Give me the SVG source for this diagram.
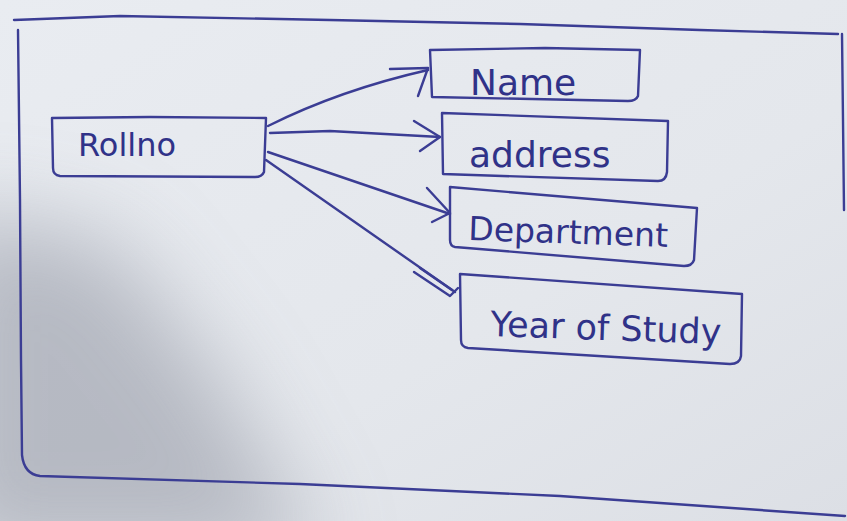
<svg xmlns="http://www.w3.org/2000/svg" width="847" height="521" viewBox="0 0 847 521">
  <defs>
    <filter id="soft" x="-50%" y="-50%" width="200%" height="200%">
      <feGaussianBlur stdDeviation="45"/>
    </filter>
    <linearGradient id="paper" x1="0" y1="0" x2="1" y2="1">
      <stop offset="0" stop-color="#e9ecf1"/>
      <stop offset="0.6" stop-color="#e4e7ec"/>
      <stop offset="1" stop-color="#dcdfe5"/>
    </linearGradient>
  </defs>
  <style>
    .ink { fill: none; stroke: #3b3d94; stroke-width: 2.4; stroke-linecap: round; stroke-linejoin: round; }
    .label { fill: #303288; font-family: "DejaVu Sans", "Liberation Sans", sans-serif; }
  </style>

  <!-- paper with a shadow falling over the lower left -->
  <rect x="0" y="0" width="847" height="521" fill="url(#paper)"/>
  <path d="M-60 210 L110 240 L220 380 L320 560 L-60 560 Z" fill="#a2a6b1" opacity="0.7" filter="url(#soft)"/>

  <!-- outer frame -->
  <g id="frame" class="ink">
    <path d="M14 20 L120 16 L330 20 L520 24 L700 30 L838 34"/>
    <path d="M18 30 L20 200 L21 360 L22 455 Q24 474 40 476 L300 484 L560 496 L845 516"/>
    <path d="M842 34 L843 120 L844 210"/>
  </g>

  <!-- connectors -->
  <g id="connectors" class="ink">
    <path d="M268 126 Q340 90 428 70"/>
    <path d="M390 69 L428 68 L418 96"/>
    <path d="M270 133 L330 131 L440 137"/>
    <path d="M414 121 L440 137 L420 151"/>
    <path d="M268 152 L450 214"/>
    <path d="M427 188 L450 213 L432 222"/>
    <path d="M266 160 L455 292"/>
    <path d="M414 272 L450 296 L458 288"/>
    <path d="M420 268 L452 290"/>
  </g>

  <!-- nodes -->
  <g id="rollno">
    <path class="ink" d="M52 118 L150 117 L266 118 L264 172 Q262 177 255 177 L60 176 Q53 175 53 168 Z"/>
    <text class="label" x="78" y="156" font-size="32">Rollno</text>
  </g>
  <g id="name">
    <path class="ink" d="M430 50 L545 48 L640 50 L638 96 Q636 101 628 101 L432 97 Z"/>
    <text class="label" x="470" y="95" font-size="36">Name</text>
  </g>
  <g id="address">
    <path class="ink" d="M442 113 L668 121 L667 172 Q666 181 658 181 L443 174 Z"/>
    <text class="label" x="469" y="167" font-size="36">address</text>
  </g>
  <g id="department">
    <path class="ink" d="M450 187 L697 208 L694 260 Q692 266 684 266 L455 247 Q450 246 450 240 Z"/>
    <text class="label" x="468" y="240" font-size="33" transform="rotate(2 468 240)">Department</text>
  </g>
  <g id="year-of-study">
    <path class="ink" d="M460 274 L742 294 L741 356 Q740 364 730 364 L468 348 Q461 347 461 340 Z"/>
    <text class="label" x="490" y="336" font-size="35" transform="rotate(2 490 336)">Year of Study</text>
  </g>
</svg>
